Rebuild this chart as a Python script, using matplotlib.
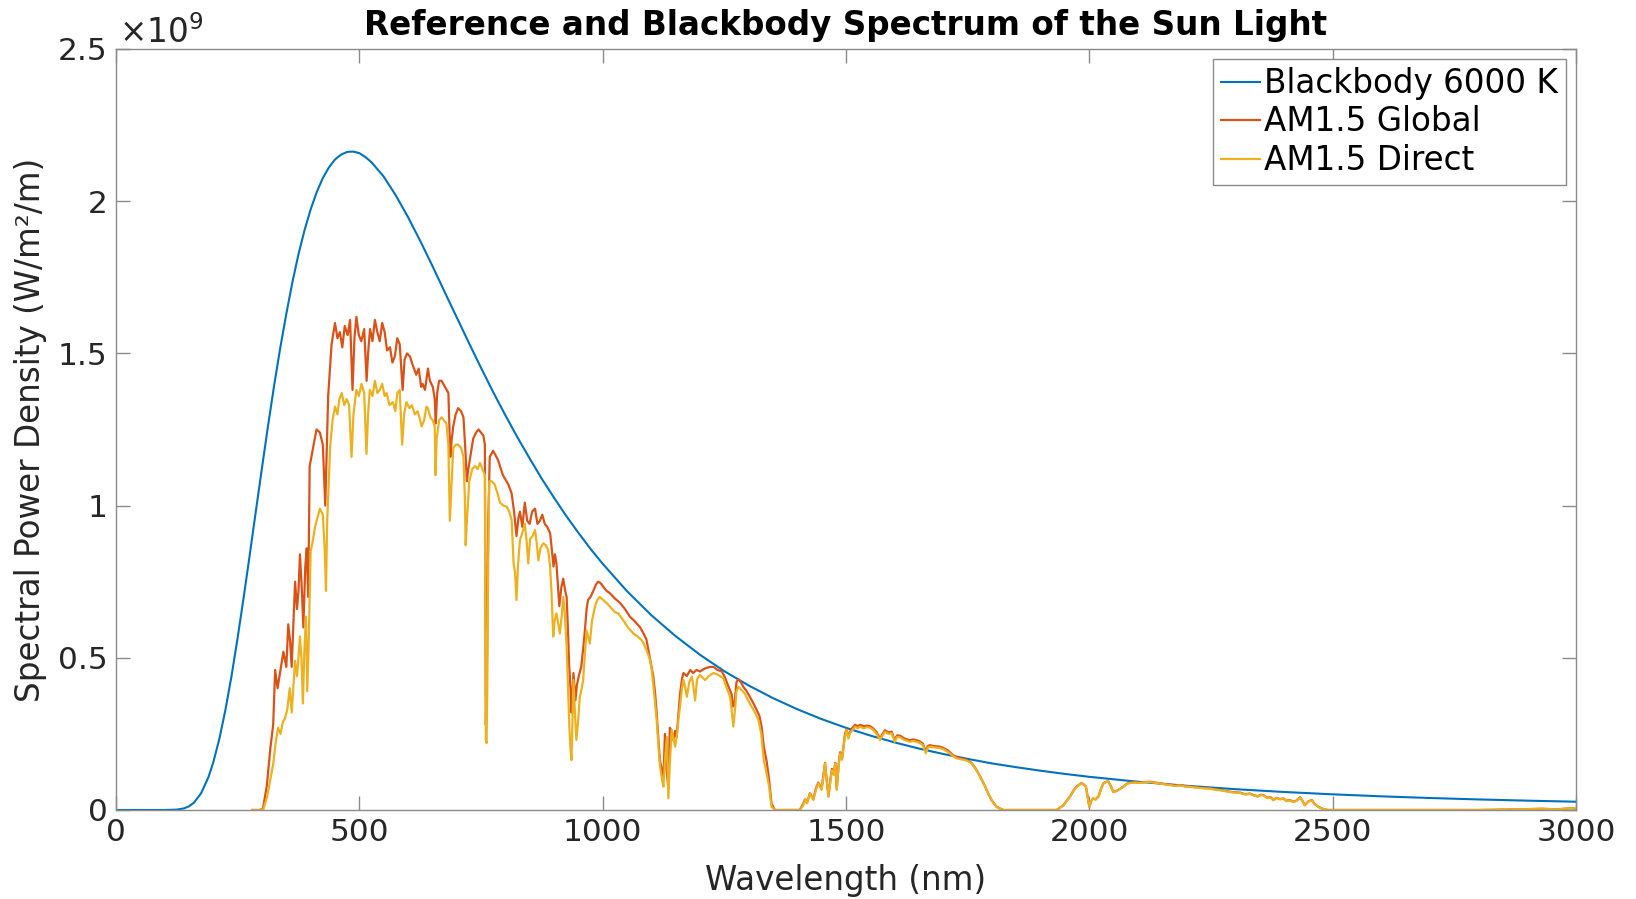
import matplotlib
matplotlib.use("Agg")
import matplotlib.pyplot as plt
from matplotlib.ticker import FuncFormatter
import numpy as np

# ---------------- data (values in units of 1e9 W/m^2/m, i.e. W/m^2/nm) ----------------
bb_nm = [0, 50, 100, 125, 140, 150, 160, 175, 190, 200, 212.5, 225, 237.5, 250, 262.5, 275,
         287.5, 300, 312.5, 325, 337.5, 350, 362.5, 375, 387.5, 400, 412.5, 425, 437.5, 450,
         462.5, 475, 487.5, 500, 512.5, 525, 550, 575, 600, 625, 650, 675, 700, 725, 750,
         775, 800, 825, 850, 875, 900, 925, 950, 975, 1000, 1050, 1100, 1150, 1200, 1250,
         1300, 1350, 1400, 1450, 1500, 1550, 1600, 1650, 1700, 1750, 1800, 1850, 1900, 1950,
         2000, 2100, 2200, 2300, 2400, 2500, 2600, 2700, 2800, 2900, 3000]
bb_val = [0, 0, 0.00003, 0.00124, 0.00547, 0.0121, 0.0238, 0.0553, 0.108, 0.157, 0.2345,
          0.330, 0.4412, 0.566, 0.700, 0.840, 0.983, 1.124, 1.263, 1.395, 1.518, 1.630,
          1.734, 1.826, 1.905, 1.973, 2.030, 2.076, 2.111, 2.137, 2.153, 2.162, 2.163,
          2.158, 2.145, 2.128, 2.081, 2.019, 1.948, 1.870, 1.788, 1.703, 1.619, 1.535,
          1.453, 1.373, 1.297, 1.224, 1.155, 1.088, 1.026, 0.9664, 0.911, 0.858, 0.809,
          0.719, 0.640, 0.571, 0.510, 0.456, 0.409, 0.3676, 0.331, 0.2986, 0.270, 0.2445,
          0.222, 0.2018, 0.184, 0.1679, 0.153, 0.1406, 0.129, 0.1185, 0.109, 0.0928,
          0.0795, 0.0684, 0.0592, 0.0515, 0.0449, 0.0394, 0.0347, 0.0307, 0.0272]

am15_global = [
    (280, 0), (295, 0), (302, 0.005), (310, 0.08), (317, 0.2), (323, 0.28), (327, 0.46),
    (332, 0.40), (337, 0.45), (344, 0.52), (350, 0.47), (354, 0.61), (358, 0.55), (361, 0.47),
    (368, 0.75), (372, 0.66), (375, 0.72), (378, 0.84), (382, 0.72), (385, 0.60), (389, 0.80),
    (392, 0.86), (395, 0.70), (398, 1.13), (405, 1.19), (412, 1.25), (419, 1.24), (425, 1.20),
    (430, 1.00), (436, 1.36), (443, 1.53), (450, 1.60), (455, 1.55), (460, 1.57), (465, 1.52),
    (470, 1.59), (476, 1.56), (481, 1.61), (486, 1.38), (490, 1.55), (494, 1.62), (499, 1.56),
    (504, 1.54), (510, 1.58), (515, 1.41), (518, 1.50), (522, 1.58), (527, 1.54), (532, 1.61),
    (537, 1.57), (542, 1.54), (547, 1.60), (552, 1.57), (557, 1.51), (563, 1.52), (568, 1.47),
    (573, 1.49), (578, 1.55), (583, 1.53), (589, 1.38), (593, 1.48), (598, 1.50), (604, 1.49),
    (610, 1.46), (617, 1.43), (622, 1.45), (627, 1.39), (630, 1.40), (635, 1.38), (641, 1.45),
    (645, 1.41), (651, 1.39), (655, 1.35), (657, 1.27), (660, 1.37), (664, 1.41), (669, 1.41),
    (676, 1.39), (683, 1.37), (687, 1.16), (690, 1.22), (693, 1.26), (698, 1.30), (703, 1.32),
    (709, 1.31), (714, 1.29), (718, 1.18), (721, 1.08), (724, 1.12), (727, 1.15), (734, 1.22),
    (740, 1.24), (745, 1.25), (750, 1.24), (755, 1.23), (758, 1.20), (760, 0.28), (762, 0.45),
    (765, 0.95), (768, 1.16), (775, 1.18), (785, 1.15), (795, 1.10), (806, 1.07), (813, 1.04),
    (818, 0.98), (823, 0.90), (827, 0.96), (830, 0.98), (835, 0.93), (840, 1.01), (845, 0.95),
    (850, 0.94), (855, 0.98), (861, 0.99), (866, 0.94), (871, 0.95), (876, 0.97), (881, 0.94),
    (886, 0.93), (892, 0.91), (896, 0.85), (899, 0.80), (902, 0.84), (905, 0.81), (908, 0.74),
    (911, 0.67), (915, 0.73), (919, 0.76), (923, 0.72), (926, 0.70), (929, 0.58), (931, 0.48),
    (934, 0.40), (936, 0.32), (938, 0.38), (940, 0.45), (944, 0.36), (947, 0.41), (951, 0.44),
    (956, 0.47), (960, 0.53), (963, 0.58), (967, 0.66), (970, 0.69), (975, 0.70), (981, 0.72),
    (986, 0.74), (991, 0.75), (996, 0.745), (1001, 0.734), (1008, 0.72), (1015, 0.712),
    (1025, 0.695), (1036, 0.68), (1046, 0.66), (1056, 0.635), (1066, 0.62), (1077, 0.60),
    (1084, 0.58), (1090, 0.56), (1097, 0.50), (1104, 0.44), (1108, 0.38), (1111, 0.32),
    (1115, 0.22), (1118, 0.16), (1122, 0.13), (1125, 0.11), (1128, 0.25), (1131, 0.14),
    (1135, 0.07), (1138, 0.27), (1142, 0.26), (1145, 0.23), (1149, 0.26), (1152, 0.24),
    (1156, 0.32), (1159, 0.38), (1163, 0.43), (1166, 0.45), (1173, 0.44), (1180, 0.46),
    (1186, 0.45), (1193, 0.46), (1200, 0.455), (1210, 0.465), (1220, 0.47), (1228, 0.47),
    (1236, 0.46), (1245, 0.455), (1250, 0.44), (1255, 0.42), (1260, 0.40), (1265, 0.38),
    (1268, 0.34), (1271, 0.35), (1275, 0.42), (1279, 0.43), (1284, 0.42), (1289, 0.405),
    (1296, 0.39), (1303, 0.37), (1310, 0.35), (1316, 0.33), (1322, 0.31), (1327, 0.27),
    (1331, 0.21), (1337, 0.16), (1342, 0.10), (1347, 0.02), (1354, 0.0), (1405, 0.0),
    (1412, 0.02), (1416, 0.035), (1420, 0.025), (1426, 0.055), (1433, 0.035), (1438, 0.07),
    (1443, 0.09), (1450, 0.07), (1454, 0.12), (1457, 0.155), (1461, 0.09), (1464, 0.045),
    (1468, 0.10), (1471, 0.135), (1475, 0.12), (1478, 0.155), (1481, 0.07), (1485, 0.15),
    (1488, 0.19), (1492, 0.17), (1495, 0.21), (1498, 0.25), (1501, 0.265), (1505, 0.24),
    (1508, 0.255), (1513, 0.27), (1519, 0.28), (1524, 0.275), (1529, 0.28), (1536, 0.275),
    (1543, 0.277), (1550, 0.275), (1556, 0.268), (1563, 0.255), (1570, 0.235), (1575, 0.25),
    (1580, 0.262), (1587, 0.255), (1594, 0.257), (1600, 0.23), (1605, 0.245), (1611, 0.244),
    (1620, 0.235), (1631, 0.229), (1638, 0.232), (1645, 0.229), (1652, 0.225), (1658, 0.218),
    (1664, 0.192), (1668, 0.21), (1672, 0.213), (1680, 0.21), (1693, 0.208), (1700, 0.204),
    (1710, 0.195), (1720, 0.18), (1727, 0.174), (1735, 0.17), (1744, 0.166), (1751, 0.162),
    (1758, 0.155), (1765, 0.14), (1772, 0.121), (1779, 0.10), (1786, 0.077), (1792, 0.055),
    (1799, 0.033), (1805, 0.02), (1810, 0.01), (1823, 0), (1933, 0), (1947, 0.016),
    (1960, 0.044), (1968, 0.065), (1974, 0.077), (1984, 0.089), (1993, 0.078), (1997, 0.04),
    (2000, 0.011), (2004, 0.03), (2008, 0.038), (2013, 0.035), (2019, 0.045), (2024, 0.07),
    (2029, 0.088), (2035, 0.093), (2039, 0.094), (2044, 0.08), (2049, 0.06), (2055, 0.062),
    (2060, 0.066), (2070, 0.077), (2077, 0.086), (2084, 0.09), (2095, 0.091), (2104, 0.09),
    (2115, 0.092), (2125, 0.093), (2135, 0.09), (2145, 0.088), (2155, 0.085), (2166, 0.083),
    (2176, 0.08), (2187, 0.082), (2197, 0.078), (2207, 0.077), (2218, 0.075), (2228, 0.073),
    (2238, 0.072), (2248, 0.071), (2258, 0.068), (2269, 0.066), (2279, 0.063), (2289, 0.06),
    (2300, 0.058), (2310, 0.057), (2320, 0.052), (2330, 0.054), (2337, 0.049), (2346, 0.045),
    (2352, 0.05), (2358, 0.049), (2366, 0.04), (2372, 0.043), (2378, 0.033), (2385, 0.04),
    (2392, 0.036), (2399, 0.038), (2405, 0.03), (2412, 0.033), (2419, 0.027), (2426, 0.031),
    (2433, 0.042), (2438, 0.03), (2443, 0.016), (2450, 0.028), (2457, 0.033), (2463, 0.02),
    (2470, 0.011), (2481, 0.003), (2490, 0), (2800, 0), (2880, 0.002), (2930, 0.004),
    (2960, 0.002), (2990, 0.006), (3000, 0.004),
]

am15_direct = [
    (280, 0), (295, 0), (303, 0.003), (310, 0.04), (317, 0.10), (323, 0.15), (328, 0.22),
    (333, 0.27), (338, 0.25), (343, 0.29), (347, 0.30), (352, 0.33), (357, 0.40), (361, 0.32),
    (365, 0.42), (368, 0.49), (372, 0.44), (375, 0.50), (378, 0.57), (381, 0.50), (384, 0.35),
    (387, 0.52), (390.5, 0.635), (393, 0.39), (396, 0.55), (400, 0.85), (404, 0.88), (409, 0.93),
    (414, 0.96), (419, 0.99), (425, 0.97), (429, 0.85), (431.5, 0.72), (434, 0.95), (440, 1.19),
    (445, 1.28), (450, 1.325), (455, 1.30), (459, 1.35), (464, 1.37), (469, 1.33), (474, 1.35),
    (479, 1.33), (484, 1.16), (488, 1.30), (494, 1.38), (499, 1.36), (504.5, 1.40), (510, 1.37),
    (514.7, 1.17), (518, 1.30), (521.5, 1.38), (527, 1.36), (532, 1.41), (537, 1.37), (542, 1.38),
    (547, 1.40), (552, 1.36), (556, 1.37), (562, 1.33), (569, 1.34), (574, 1.31), (578, 1.37),
    (583, 1.38), (588, 1.20), (592, 1.30), (597, 1.34), (603, 1.32), (608, 1.33), (614, 1.30),
    (620, 1.31), (625, 1.28), (628, 1.26), (633, 1.28), (638, 1.325), (641, 1.32), (646, 1.29),
    (651, 1.28), (655, 1.26), (656.5, 1.10), (659, 1.22), (664, 1.28), (669, 1.29), (674, 1.28),
    (679, 1.27), (683, 1.20), (686, 0.95), (689, 1.05), (693, 1.19), (698, 1.20), (703, 1.20),
    (709, 1.19), (714, 1.16), (717, 1.02), (718.5, 0.87), (721, 0.95), (726, 1.08), (732, 1.12),
    (738, 1.13), (743, 1.12), (748, 1.14), (753, 1.12), (758, 1.10), (760, 0.23), (761.5, 0.22),
    (763, 0.40), (765, 0.85), (767, 1.08), (772, 1.08), (778, 1.07), (784, 1.04), (789, 1.01),
    (796, 1.00), (803, 0.996), (808, 0.98), (813, 0.953), (817, 0.81), (820, 0.78), (823, 0.69),
    (826, 0.80), (830, 0.887), (835, 0.91), (840, 0.94), (844, 0.88), (847, 0.81), (851, 0.89),
    (856, 0.90), (861, 0.92), (865, 0.87), (868, 0.82), (872, 0.86), (878, 0.876), (883, 0.87),
    (888, 0.854), (892, 0.80), (895, 0.71), (898.5, 0.57), (901, 0.62), (905, 0.646), (908, 0.62),
    (912, 0.58), (916, 0.64), (919, 0.70), (922, 0.65), (926, 0.537), (929, 0.40), (931.6, 0.274),
    (934, 0.20), (936, 0.164), (938, 0.30), (940, 0.427), (943, 0.32), (946, 0.23), (949, 0.28),
    (953, 0.37), (957, 0.40), (960, 0.427), (963, 0.50), (967, 0.59), (970, 0.57), (973.6, 0.547),
    (978, 0.62), (984, 0.668), (989, 0.69), (994, 0.70), (1001, 0.69), (1008, 0.68), (1015, 0.668),
    (1025, 0.65), (1032, 0.646), (1042, 0.624), (1052, 0.60), (1063, 0.58), (1072, 0.57),
    (1080, 0.558), (1085, 0.545), (1090, 0.525), (1096, 0.50), (1101, 0.46), (1106, 0.38),
    (1111, 0.296), (1115, 0.20), (1118, 0.142), (1122, 0.10), (1125, 0.077), (1128, 0.16),
    (1132, 0.24), (1135, 0.038), (1138, 0.15), (1142, 0.263), (1146, 0.23), (1149, 0.208),
    (1153, 0.25), (1156, 0.30), (1159, 0.34), (1163, 0.40), (1166, 0.427), (1170, 0.40),
    (1173, 0.372), (1178, 0.42), (1183, 0.438), (1187, 0.40), (1190, 0.36), (1194, 0.43),
    (1200, 0.443), (1205, 0.435), (1210.6, 0.427), (1218, 0.44), (1227.6, 0.45), (1236, 0.445),
    (1248, 0.433), (1255, 0.40), (1262, 0.372), (1265, 0.33), (1268.5, 0.274), (1272, 0.33),
    (1275, 0.39), (1279, 0.405), (1285, 0.395), (1292, 0.383), (1299, 0.36), (1306, 0.34),
    (1313, 0.32), (1320, 0.296), (1326, 0.25), (1331, 0.164), (1337, 0.12), (1342, 0.077),
    (1347, 0.01), (1354, 0), (1405, 0), (1412, 0.015), (1416, 0.033), (1420, 0.022),
    (1426, 0.055), (1433, 0.033), (1438, 0.065), (1443, 0.088), (1450, 0.066), (1454, 0.115),
    (1457, 0.153), (1461, 0.085), (1464, 0.044), (1468, 0.095), (1471, 0.131), (1475, 0.115),
    (1478, 0.153), (1481, 0.066), (1485, 0.145), (1488, 0.186), (1492, 0.165), (1495, 0.208),
    (1498, 0.24), (1501, 0.263), (1505, 0.235), (1508, 0.252), (1513, 0.262), (1519, 0.274),
    (1524, 0.268), (1529, 0.274), (1536, 0.268), (1543, 0.272), (1550, 0.27), (1556, 0.263),
    (1563, 0.25), (1570, 0.23), (1575, 0.245), (1580, 0.257), (1587, 0.25), (1594, 0.252),
    (1600, 0.224), (1605, 0.24), (1611, 0.239), (1620, 0.23), (1631, 0.224), (1638, 0.227),
    (1645, 0.224), (1652, 0.22), (1658, 0.213), (1664, 0.186), (1668, 0.205), (1672, 0.208),
    (1680, 0.206), (1693, 0.203), (1700, 0.2), (1710, 0.19), (1720, 0.177), (1727, 0.17),
    (1735, 0.167), (1744, 0.164), (1751, 0.16), (1758, 0.153), (1765, 0.138), (1772, 0.12),
    (1779, 0.098), (1786, 0.077), (1792, 0.055), (1799, 0.033), (1805, 0.019), (1810, 0.009),
    (1823, 0), (1933, 0), (1947, 0.015), (1960, 0.043), (1968, 0.064), (1974, 0.076),
    (1984, 0.088), (1993, 0.077), (1997, 0.04), (2000, 0.011), (2004, 0.03), (2008, 0.038),
    (2013, 0.034), (2019, 0.044), (2024, 0.069), (2029, 0.087), (2035, 0.092), (2039, 0.093),
    (2044, 0.079), (2049, 0.06), (2055, 0.061), (2060, 0.066), (2070, 0.076), (2077, 0.085),
    (2084, 0.089), (2095, 0.09), (2104, 0.089), (2115, 0.091), (2125, 0.092), (2135, 0.089),
    (2145, 0.087), (2155, 0.084), (2166, 0.082), (2176, 0.079), (2187, 0.081), (2197, 0.077),
    (2207, 0.076), (2218, 0.074), (2228, 0.072), (2238, 0.071), (2248, 0.07), (2258, 0.067),
    (2269, 0.065), (2279, 0.062), (2289, 0.059), (2300, 0.057), (2310, 0.056), (2320, 0.051),
    (2330, 0.053), (2337, 0.048), (2346, 0.044), (2352, 0.049), (2358, 0.048), (2366, 0.039),
    (2372, 0.042), (2378, 0.032), (2385, 0.039), (2392, 0.035), (2399, 0.037), (2405, 0.029),
    (2412, 0.032), (2419, 0.026), (2426, 0.03), (2433, 0.041), (2438, 0.029), (2443, 0.015),
    (2450, 0.027), (2457, 0.032), (2463, 0.019), (2470, 0.01), (2481, 0.003), (2490, 0),
    (2800, 0), (2880, 0.002), (2930, 0.004), (2960, 0.002), (2990, 0.006), (3000, 0.004),
]

x_ticks = [0, 500, 1000, 1500, 2000, 2500, 3000]
y_ticks = [0, 0.5, 1, 1.5, 2, 2.5]
labels = ["Blackbody 6000 K", "AM1.5 Global", "AM1.5 Direct"]
colors = ["#0072BD", "#D95319", "#EDB120"]
SCALE = 1e9

# ---------------- figure ----------------
plt.rcParams['font.family'] = ['DejaVu Sans']
fig = plt.figure(figsize=(16.36, 8.99), dpi=100)
ax = fig.add_axes([0.0709, 0.0990, 0.8924, 0.8465])

g_nm, g_val = zip(*am15_global)
d_nm, d_val = zip(*am15_direct)

ax.plot(bb_nm, np.array(bb_val) * SCALE, color=colors[0], lw=1.5, label=labels[0])
ax.plot(g_nm, np.array(g_val) * SCALE, color=colors[1], lw=1.6, label=labels[1])
ax.plot(d_nm, np.array(d_val) * SCALE, color=colors[2], lw=1.6, label=labels[2])

ax.set_xlim(0, 3000)
ax.set_ylim(0, 2.5 * SCALE)
ax.set_xticks(x_ticks)
ax.set_yticks([v * SCALE for v in y_ticks])
ax.yaxis.set_major_formatter(FuncFormatter(lambda v, _: f"{v / SCALE:g}"))

text_col = "#262626"
spine_col = "#8a8a8a"
for s in ax.spines.values():
    s.set_color(spine_col)
    s.set_linewidth(1.0)
ax.tick_params(direction="in", length=10, width=1.0, color=spine_col,
               labelsize=22.5, labelcolor=text_col, top=True, right=True, pad=6)

ax.text(0.002, 0.999, r"$\times10^{9}$", transform=ax.transAxes, fontsize=23.5,
        color=text_col, ha="left", va="bottom")

ax.set_xlabel("Wavelength (nm)", fontsize=23.5, color=text_col, labelpad=12)
ax.set_ylabel("Spectral Power Density (W/m²/m)", fontsize=23.5, color=text_col, labelpad=8)
ax.set_title("Reference and Blackbody Spectrum of the Sun Light", fontsize=23.5,
             fontweight="bold", color="black", pad=10)

leg = ax.legend(loc="upper right", fontsize=23.5, frameon=True, fancybox=False,
                framealpha=1, edgecolor=spine_col, handlelength=1.2,
                handletextpad=0.12, labelspacing=0.17, borderaxespad=0.3,
                borderpad=0.25)
leg.get_frame().set_linewidth(1.0)

fig.savefig("out.png", dpi=100)
